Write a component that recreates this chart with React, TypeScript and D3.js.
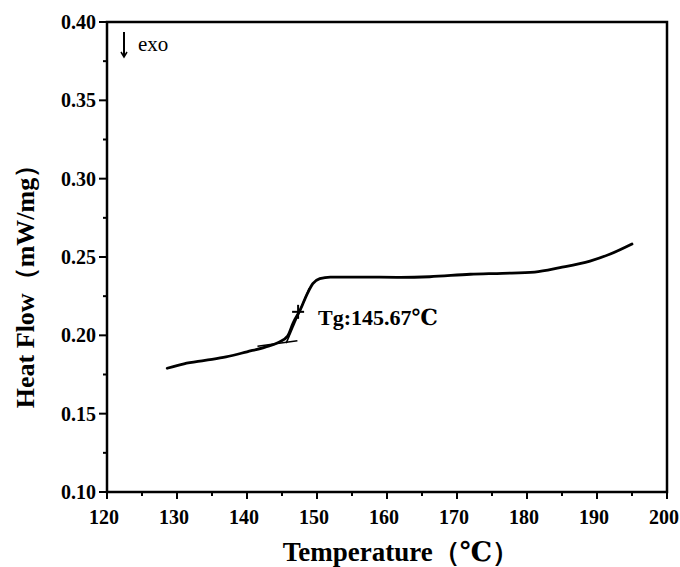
import { useMemo } from 'react';
import * as d3 from 'd3';

const WIDTH = 680;
const HEIGHT = 567;
const MARGIN = { top: 22, right: 13, bottom: 75, left: 107 };

// DSC curve
const temps = [128.6, 131.0, 134.0, 137.0, 140.0, 142.6, 144.5, 145.8, 146.6, 147.6, 148.6, 149.4, 150.4, 151.9, 156.0, 161.9, 166.1, 171.9, 176.5, 181.1, 184.7, 189.0, 191.9, 195.0];
const heatFlow = [0.1790, 0.1818, 0.1840, 0.1862, 0.1895, 0.1925, 0.1955, 0.1995, 0.2080, 0.2162, 0.2265, 0.2330, 0.2362, 0.2372, 0.2372, 0.2370, 0.2374, 0.2390, 0.2396, 0.2404, 0.2432, 0.2474, 0.2519, 0.2583];

const xTicks = [120, 130, 140, 150, 160, 170, 180, 190, 200];
const yTicks = [0.10, 0.15, 0.20, 0.25, 0.30, 0.35, 0.40];

// tangent construction around the glass transition
const baseTangent = { t: [141.5, 147.2], v: [0.1930, 0.1965] };
const stepTangent = { t: [145.6, 148.9], v: [0.1950, 0.2300] };
const tgPoint = { t: 147.3, v: 0.2150 };
const tgLabel = 'Tg:145.67℃';

const FONT = '"Liberation Serif", "DejaVu Serif", serif';

export default function App() {
  const boundsWidth = WIDTH - MARGIN.left - MARGIN.right;
  const boundsHeight = HEIGHT - MARGIN.top - MARGIN.bottom;

  const xScale = useMemo(() => d3.scaleLinear().domain([120, 200]).range([0, boundsWidth]), [boundsWidth]);
  const yScale = useMemo(() => d3.scaleLinear().domain([0.1, 0.4]).range([boundsHeight, 0]), [boundsHeight]);

  const linePath = d3
    .line<number>()
    .x((_, i) => xScale(temps[i]))
    .y((d) => yScale(d))
    .curve(d3.curveMonotoneX)(heatFlow) || '';

  const seg = (s: { t: number[]; v: number[] }) =>
    d3.line<number>().x((_, i) => xScale(s.t[i])).y((d) => yScale(d))(s.v) || '';

  const xMinor = d3.range(125, 200, 10);
  const yMinor = d3.range(0.125, 0.4, 0.05);

  const tgx = xScale(tgPoint.t);
  const tgy = yScale(tgPoint.v);

  return (
    <svg width={WIDTH} height={HEIGHT} style={{ position: 'absolute', left: 0, top: 0, background: '#fff' }}>
      <g transform={`translate(${MARGIN.left},${MARGIN.top})`} fontFamily={FONT}>
        {/* frame */}
        <rect x={0} y={0} width={boundsWidth} height={boundsHeight} fill="none" stroke="#000" strokeWidth={2.5} />

        {/* x ticks */}
        {xTicks.map((t) => (
          <g key={t} transform={`translate(${xScale(t)},${boundsHeight})`}>
            <line y1={0} y2={7} stroke="#000" strokeWidth={2} />
            <text x={-3} y={32} textAnchor="middle" fontSize={20} fontWeight="bold">{t}</text>
          </g>
        ))}
        {xMinor.map((t) => (
          <line key={t} x1={xScale(t)} x2={xScale(t)} y1={boundsHeight} y2={boundsHeight + 4} stroke="#000" strokeWidth={2} />
        ))}

        {/* y ticks */}
        {yTicks.map((v) => (
          <g key={v} transform={`translate(0,${yScale(v)})`}>
            <line x1={-8} x2={0} stroke="#000" strokeWidth={2} />
            <text x={-11} dy="0.35em" textAnchor="end" fontSize={20} fontWeight="bold">{v.toFixed(2)}</text>
          </g>
        ))}
        {yMinor.map((v) => (
          <line key={v} x1={-4} x2={0} y1={yScale(v)} y2={yScale(v)} stroke="#000" strokeWidth={2} />
        ))}

        {/* curve */}
        <path d={linePath} fill="none" stroke="#000" strokeWidth={2.8} strokeLinejoin="round" strokeLinecap="round" />
        <path d={seg(baseTangent)} fill="none" stroke="#000" strokeWidth={1.6} />
        <path d={seg(stepTangent)} fill="none" stroke="#000" strokeWidth={1.6} />
        <line x1={tgx - 6} x2={tgx + 6} y1={tgy} y2={tgy} stroke="#000" strokeWidth={2} />
        <line x1={tgx} x2={tgx} y1={tgy - 7} y2={tgy + 7} stroke="#000" strokeWidth={2} />
        <text x={tgx + 20} y={tgy + 13} fontSize={22} fontWeight="bold">{tgLabel}</text>

        {/* exo marker */}
        <line x1={17} x2={17} y1={10} y2={34} stroke="#000" strokeWidth={2} />
        <path d="M14,30 L17,35 L20,30" fill="none" stroke="#000" strokeWidth={1.5} />
        <text x={31} y={29} fontSize={21}>exo</text>
      </g>

      {/* axis titles */}
      <text x={MARGIN.left + boundsWidth / 2 + 14} y={561} textAnchor="middle" fontFamily={FONT} fontSize={27} fontWeight="bold">
        Temperature（℃）
      </text>
      <text
        transform={`translate(34,${280}) rotate(-90)`}
        textAnchor="middle"
        fontFamily={FONT}
        fontSize={26}
        fontWeight="bold"
      >
        Heat Flow（mW/mg）
      </text>
    </svg>
  );
}
